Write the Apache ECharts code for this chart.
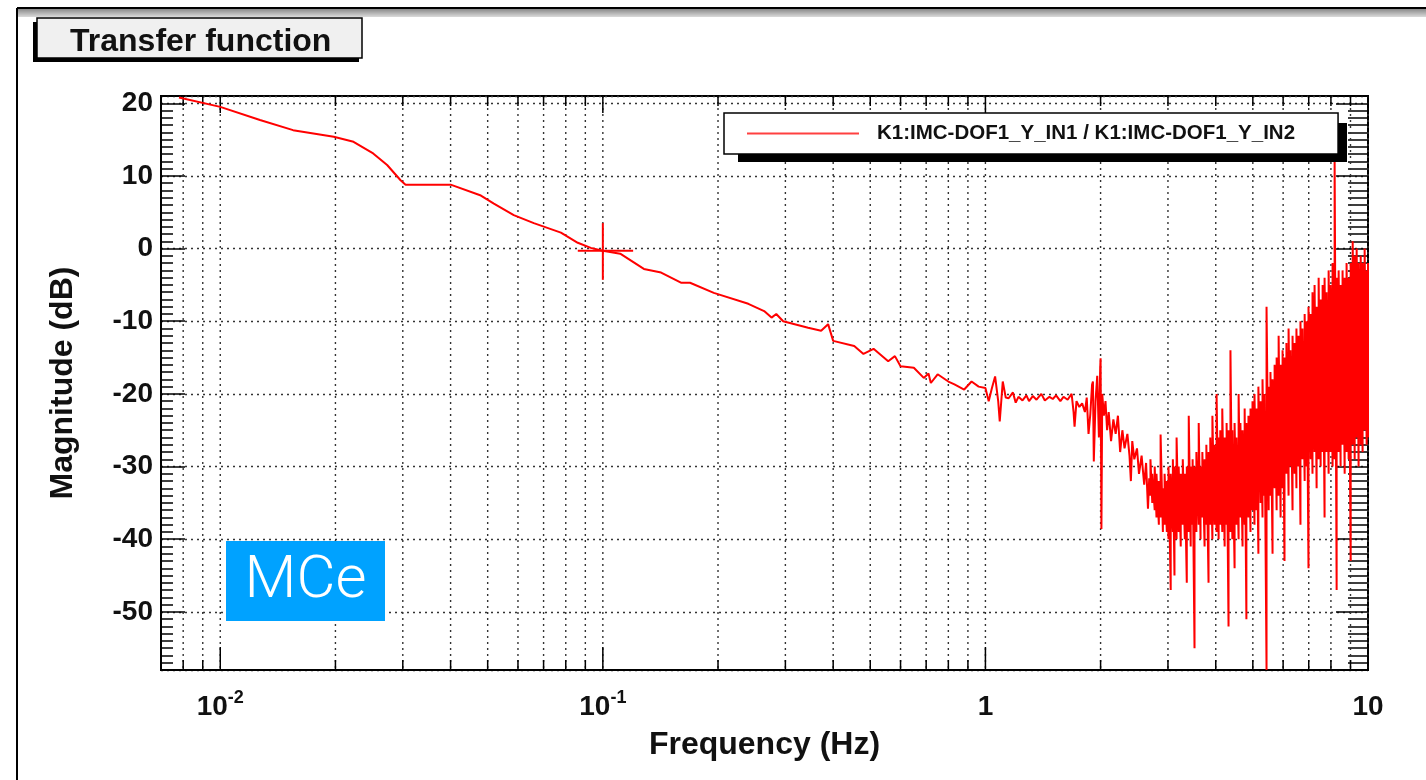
<!DOCTYPE html>
<html>
<head>
<meta charset="utf-8">
<script src="https://cdn.jsdelivr.net/npm/echarts@6/dist/echarts.min.js"></script>
<style>
html,body{margin:0;padding:0;background:#fff;}
#c{width:1426px;height:780px;}
</style>
</head>
<body>
<div id="c"></div>
<script>
// ---------- DATA ----------
const seriesName = 'K1:IMC-DOF1_Y_IN1 / K1:IMC-DOF1_Y_IN2';

// smooth low-frequency part (Hz, dB)
const lowFreq = [0.0078, 0.0100, 0.0127, 0.0155, 0.0198, 0.0223, 0.0251, 0.0273, 0.0296, 0.0305,
  0.0400, 0.0480, 0.0519, 0.0585, 0.0660, 0.0777, 0.0860, 0.0930, 0.1000, 0.111,
  0.128, 0.142, 0.160, 0.169, 0.195, 0.240, 0.264, 0.276, 0.284, 0.296,
  0.344, 0.372, 0.388, 0.400, 0.454, 0.480, 0.510, 0.557, 0.580, 0.600,
  0.650, 0.690, 0.710, 0.720, 0.750, 0.800, 0.830, 0.880, 0.920, 0.960];
const lowMag = [20.8, 19.5, 17.7, 16.3, 15.4, 14.7, 13.1, 11.5, 9.4, 8.8,
  8.8, 7.3, 6.2, 4.6, 3.5, 2.2, 0.8, 0.1, -0.3, -0.7,
  -2.8, -3.3, -4.7, -4.7, -6.1, -7.6, -8.6, -9.5, -9.0, -10.0,
  -10.9, -11.3, -10.4, -12.7, -13.4, -14.5, -13.8, -15.5, -14.8, -16.2,
  -16.4, -17.8, -17.2, -18.5, -17.3, -18.3, -18.7, -19.4, -18.3, -19.0];

// mid part 1 - 2.7 Hz
const midFreq = [1.00, 1.02, 1.04, 1.06, 1.08, 1.09, 1.11, 1.13, 1.15, 1.18,
  1.20, 1.22, 1.25, 1.28, 1.30, 1.33, 1.36, 1.40, 1.43, 1.47,
  1.50, 1.53, 1.57, 1.60, 1.64, 1.68, 1.70, 1.71, 1.73, 1.76,
  1.79, 1.82, 1.84, 1.86, 1.88, 1.90, 1.91, 1.92, 1.94, 1.96,
  1.98, 1.995, 2.00, 2.01, 2.02, 2.04, 2.06, 2.08, 2.10, 2.13,
  2.16, 2.19, 2.22, 2.25, 2.28, 2.31, 2.35, 2.38, 2.40, 2.42,
  2.45, 2.49, 2.52, 2.56, 2.60, 2.63, 2.66, 2.68];
const midMag = [-19.2, -21.0, -19.2, -17.6, -21.0, -23.8, -18.3, -20.5, -20.6, -19.8,
  -21.2, -20.4, -20.9, -20.2, -21.0, -20.3, -20.8, -20.0, -20.9, -20.4,
  -20.7, -20.2, -21.0, -20.4, -20.8, -20.0, -22.5, -24.5, -21.0, -21.8,
  -21.3, -22.5, -20.5, -25.5, -22.8, -18.7, -18.3, -29.3, -21.0, -17.5,
  -26.0, -16.5, -15.1, -38.6, -20.0, -23.0, -21.0, -25.0, -22.5, -26.5,
  -23.5, -25.5, -23.0, -28.0, -25.0, -27.5, -25.5, -28.5, -32.0, -26.5,
  -29.0, -27.5, -31.0, -28.5, -32.5, -29.5, -35.8, -31.6];

// noisy part 2.7 - 10 Hz: per frequency, lowest and highest reading of the trace
const noiseFreq = [2.70, 2.73, 2.77, 2.80, 2.84, 2.87, 2.91, 2.94, 2.98, 3.01,
  3.05, 3.09, 3.12, 3.16, 3.20, 3.24, 3.28, 3.32, 3.36, 3.40,
  3.44, 3.48, 3.52, 3.56, 3.61, 3.65, 3.69, 3.74, 3.78, 3.83,
  3.87, 3.92, 3.97, 4.02, 4.07, 4.11, 4.16, 4.22, 4.27, 4.32,
  4.37, 4.42, 4.48, 4.53, 4.59, 4.64, 4.70, 4.76, 4.81, 4.87,
  4.93, 4.99, 5.05, 5.11, 5.17, 5.24, 5.30, 5.36, 5.43, 5.50,
  5.56, 5.63, 5.70, 5.77, 5.84, 5.91, 5.98, 6.05, 6.12, 6.20,
  6.27, 6.35, 6.43, 6.50, 6.58, 6.66, 6.74, 6.83, 6.91, 6.99,
  7.08, 7.16, 7.25, 7.34, 7.43, 7.52, 7.61, 7.70, 7.79, 7.89,
  7.98, 8.08, 8.18, 8.28, 8.38, 8.48, 8.58, 8.69, 8.79, 8.90,
  9.01, 9.12, 9.23, 9.34, 9.45, 9.57, 9.68, 9.80, 9.92, 10.0];
const noiseLo = [-34, -35, -36, -37, -38, -37, -39, -38, -39, -40,
  -47, -39, -45, -40, -39, -41, -38, -40, -46, -39,
  -41, -38, -55, -39, -38, -40, -37, -41, -38, -46,
  -38, -40, -38, -39, -40, -38, -39, -41, -38, -52,
  -39, -40, -44, -38, -40, -37, -41, -38, -51, -37,
  -39, -36, -38, -36, -42, -35, -37, -34, -58, -36,
  -34, -42, -33, -36, -34, -37, -33, -43, -31, -34,
  -30, -36, -31, -33, -30, -38, -29, -32, -30, -44,
  -29, -31, -28, -33, -29, -30, -28, -37, -28, -31,
  -28, -30, -29, -47, -28, -30, -27, -31, -28, -29,
  -43, -27, -29, -26, -30, -27, -28, -25, -27, -26];
const noiseHi = [-29, -31, -30, -31, -32, -25.6, -33, -31, -32, -30,
  -31, -29, -30, -26, -30, -31, -29, -31, -30, -23,
  -30, -29, -30, -28, -24, -30, -28, -29, -27, -28,
  -26, -23, -27, -20, -26, -25, -22, -26, -24, -25,
  -14, -25, -24, -26, -20, -24, -25, -22, -24, -23,
  -22, -21, -20, -22, -19, -21, -18, -20, -8, -19,
  -17, -18, -16, -15, -12, -16, -14, -15, -13, -11,
  -14, -12, -13, -11, -12, -10, -11, -9, -10, -8,
  -9, -6, -5, -8, -4, -7, -5, -4, -6, -3,
  -5, -2, 12, -4, -3, -5, -3, -4, -2, -4,
  -2, 1, -1, 0, -2, -1, -2, 0, -3, -2];

// cross marker at 0.1 Hz
const crossF = [0.1];
const crossMag = [-0.3];
const crossFLo = [0.086];
const crossFHi = [0.12];
const crossMagLo = [-4.3];
const crossMagHi = [3.5];

// ticks
const xMajorTicks = [0.01, 0.1, 1, 10];
const xTickBase = ['10', '10', '1', '10'];
const xTickExp = ['-2', '-1', '', ''];
const xMinorTicks = [0.008, 0.009, 0.02, 0.03, 0.04, 0.05, 0.06, 0.07, 0.08, 0.09,
  0.2, 0.3, 0.4, 0.5, 0.6, 0.7, 0.8, 0.9, 2, 3, 4, 5, 6, 7, 8, 9];
const yTickValues = [20, 10, 0, -10, -20, -30, -40, -50];
const yTickLabels = ['20', '10', '0', '-10', '-20', '-30', '-40', '-50'];

// ---------- BUILD ----------
const FONT = '"Liberation Sans", Arial, Helvetica, sans-serif';
const mainData = [];
lowFreq.forEach((f, i) => mainData.push([f, lowMag[i]]));
midFreq.forEach((f, i) => mainData.push([f, midMag[i]]));
noiseFreq.forEach((f, i) => { mainData.push([f, noiseLo[i]]); mainData.push([f, noiseHi[i]]); });

const tickData = [];
xMinorTicks.forEach(v => tickData.push([v, 0]));
xMajorTicks.forEach(v => tickData.push([v, 1]));

const crossData = crossF.map((f, i) => [f, crossMag[i], crossFLo[i], crossFHi[i], crossMagLo[i], crossMagHi[i]]);

function renderXTick(params, api) {
  const cs = params.coordSys;
  const x = api.coord([api.value(0), 0])[0];
  const major = api.value(1) === 1;
  const top = cs.y, bottom = cs.y + cs.height;
  const bl = major ? 23 : 10, tl = major ? 17 : 10;
  return {
    type: 'group',
    children: [
      { type: 'line', shape: { x1: x, y1: top, x2: x, y2: bottom }, style: { stroke: '#333', lineWidth: 1.4, lineDash: [2, 4] } },
      { type: 'line', shape: { x1: x, y1: bottom, x2: x, y2: bottom - bl }, style: { stroke: '#000', lineWidth: 1.5 } },
      { type: 'line', shape: { x1: x, y1: top, x2: x, y2: top + tl }, style: { stroke: '#000', lineWidth: 1.5 } }
    ]
  };
}
function renderCross(params, api) {
  const l = api.coord([api.value(2), api.value(1)]);
  const r = api.coord([api.value(3), api.value(1)]);
  const lo = api.coord([api.value(0), api.value(4)]);
  const hi = api.coord([api.value(0), api.value(5)]);
  return {
    type: 'group',
    children: [
      { type: 'line', shape: { x1: l[0], y1: l[1], x2: r[0], y2: r[1] }, style: { stroke: '#ff0000', lineWidth: 2 } },
      { type: 'line', shape: { x1: lo[0], y1: lo[1], x2: hi[0], y2: hi[1] }, style: { stroke: '#ff0000', lineWidth: 2 } }
    ]
  };
}
function xFmt(v) {
  for (let i = 0; i < xMajorTicks.length; i++) {
    if (Math.abs(Math.log10(v) - Math.log10(xMajorTicks[i])) < 1e-6) {
      return xTickExp[i] ? '{b|' + xTickBase[i] + '}{s|' + xTickExp[i] + '}' : '{b|' + xTickBase[i] + '}';
    }
  }
  return '';
}
function yFmt(v) {
  const r = Math.round(v);
  if (Math.abs(v - r) > 1e-6) return '';
  const i = yTickValues.indexOf(r);
  return i >= 0 ? yTickLabels[i] : '';
}

const chart = echarts.init(document.getElementById('c'), null, { renderer: 'canvas' });
const option = {
  animation: false,
  backgroundColor: '#ffffff',
  textStyle: { fontFamily: FONT },
  title: {
    text: 'Transfer function', left: 37, top: 18, padding: [8, 31, 0, 33], z: 10,
    backgroundColor: '#f0f0f0', borderColor: '#000', borderWidth: 1.5,
    textStyle: { fontFamily: FONT, fontSize: 32, fontWeight: 'bold', color: '#111', lineHeight: 32 }
  },
  legend: {
    data: [seriesName], left: 724, top: 113, padding: [10, 43, 10, 23], z: 10,
    itemWidth: 112, itemHeight: 2, icon: 'rect', selectedMode: false,
    backgroundColor: '#fff', borderColor: '#000', borderWidth: 1.5,
    itemStyle: { color: '#ff4040' },
    textStyle: { fontFamily: FONT, fontSize: 20.5, fontWeight: 'bold', color: '#111', padding: [0, 0, 0, 13] }
  },
  grid: { left: 161, top: 96, width: 1207, height: 574, show: true, borderColor: '#000', borderWidth: 2, backgroundColor: 'rgba(0,0,0,0)', outerBoundsMode: 'none' },
  xAxis: {
    type: 'log', logBase: 10, min: 0.007, max: 10,
    name: 'Frequency (Hz)', nameLocation: 'middle', nameGap: 59,
    nameTextStyle: { fontFamily: FONT, fontSize: 32, fontWeight: 'bold', color: '#111' },
    axisLine: { show: true, onZero: false, lineStyle: { color: '#000', width: 2 } },
    axisTick: { show: false }, minorTick: { show: false }, splitLine: { show: false }, minorSplitLine: { show: false },
    axisLabel: {
      margin: 19, formatter: xFmt, hideOverlap: false,
      rich: {
        b: { fontFamily: FONT, fontSize: 28, fontWeight: 'bold', color: '#111', lineHeight: 32, verticalAlign: 'bottom' },
        s: { fontFamily: FONT, fontSize: 18, fontWeight: 'bold', color: '#111', lineHeight: 18, verticalAlign: 'top' }
      }
    }
  },
  yAxis: [
    {
      type: 'value', min: -58, max: 21, splitNumber: 8, position: 'left',
      name: 'Magnitude (dB)', nameLocation: 'middle', nameGap: 82,
      nameTextStyle: { fontFamily: FONT, fontSize: 32, fontWeight: 'bold', color: '#111' },
      axisLine: { show: true, onZero: false, lineStyle: { color: '#000', width: 2 } },
      axisTick: { show: true, inside: true, length: 24, lineStyle: { color: '#000', width: 1.5 } },
      minorTick: { show: true, splitNumber: 10, length: 12, lineStyle: { color: '#000', width: 1.5 } },
      splitLine: { show: true, lineStyle: { color: '#333', width: 1.4, type: [2, 4] } },
      axisLabel: { margin: 8, fontFamily: FONT, fontSize: 28, fontWeight: 'bold', color: '#111', formatter: yFmt, hideOverlap: false }
    },
    {
      type: 'value', min: -58, max: 21, splitNumber: 8, position: 'right',
      axisLine: { show: true, onZero: false, lineStyle: { color: '#000', width: 2 } },
      axisTick: { show: true, inside: true, length: 32, lineStyle: { color: '#000', width: 1.5 } },
      minorTick: { show: true, splitNumber: 10, length: 20, lineStyle: { color: '#000', width: 1.5 } },
      splitLine: { show: false },
      axisLabel: { show: false }
    }
  ],
  series: [
    { type: 'custom', name: 'xticks', xAxisIndex: 0, yAxisIndex: 0, renderItem: renderXTick, data: tickData, silent: true, z: 1, clip: false },
    {
      type: 'line', name: seriesName, xAxisIndex: 0, yAxisIndex: 0, data: mainData,
      showSymbol: false, symbol: 'none', clip: true, z: 3,
      lineStyle: { color: '#ff0000', width: 2 }, itemStyle: { color: '#ff0000' }
    },
    { type: 'custom', name: 'cross', xAxisIndex: 0, yAxisIndex: 0, renderItem: renderCross, data: crossData, silent: true, z: 4 }
  ],
  graphic: [
    { type: 'rect', z: 1, shape: { x: 18, y: 9, width: 1408, height: 8 }, silent: true,
      style: { fill: new echarts.graphic.LinearGradient(0, 0, 0, 1, [{ offset: 0, color: '#8a8a8a' }, { offset: 1, color: '#dadada' }]) } },
    { type: 'line', z: 1, shape: { x1: 17, y1: 8, x2: 1426, y2: 8 }, style: { stroke: '#000', lineWidth: 2 }, silent: true },
    { type: 'line', z: 1, shape: { x1: 17, y1: 8, x2: 17, y2: 780 }, style: { stroke: '#000', lineWidth: 2 }, silent: true },
    // title box shadow
    { type: 'rect', z: 8, shape: { x: 33, y: 22, width: 326, height: 40 }, style: { fill: '#000' }, silent: true },
    // legend box shadow
    { type: 'rect', z: 8, shape: { x: 738, y: 123, width: 609, height: 39 }, style: { fill: '#000' }, silent: true },
    { type: 'rect', z: 100, shape: { x: 226, y: 541, width: 159, height: 80 }, style: { fill: '#00a2ff' }, silent: true },
    { type: 'text', x: 305.5, y: 582, z: 101, silent: true,
      style: { text: 'MCe', fill: '#ffffff', font: '300 60px Roboto, "Liberation Sans", sans-serif', align: 'center', verticalAlign: 'middle' } }
  ]
};
chart.setOption(option);
</script>
</body>
</html>
